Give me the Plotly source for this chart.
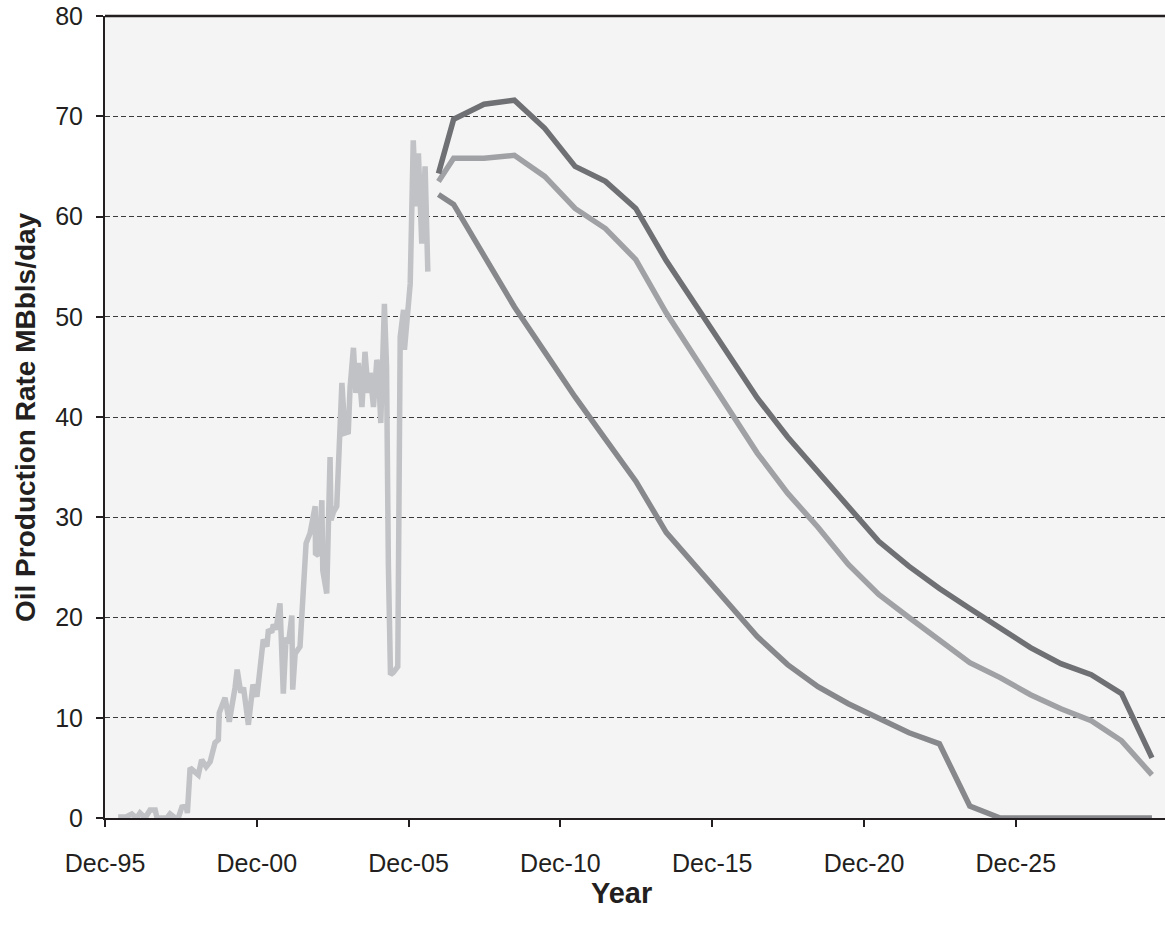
import plotly.graph_objects as go

# ---- data ----
hist_year = [1996.35, 1996.61, 1996.80, 1996.96, 1997.07, 1997.24, 1997.40, 1997.57, 1997.63, 1997.96,
             1998.06, 1998.23, 1998.33, 1998.45, 1998.59, 1998.63, 1998.72, 1998.99, 1999.10, 1999.25,
             1999.38, 1999.54, 1999.65, 1999.68, 1999.87, 2000.01, 2000.20, 2000.27, 2000.39, 2000.48,
             2000.64, 2000.79, 2000.92, 2001.13, 2001.25, 2001.30, 2001.41, 2001.46, 2001.55, 2001.68,
             2001.79, 2001.88, 2001.96, 2002.07, 2002.10, 2002.18, 2002.34, 2002.45, 2002.54, 2002.67,
             2002.84, 2002.85, 2002.95, 2003.06, 2003.09, 2003.22, 2003.33, 2003.36, 2003.44, 2003.55,
             2003.72, 2003.82, 2003.93, 2003.99, 2004.10, 2004.18, 2004.26, 2004.38, 2004.48, 2004.59,
             2004.65, 2004.76, 2004.87, 2004.92, 2005.00, 2005.12, 2005.19, 2005.25, 2005.32, 2005.41,
             2005.56, 2005.64, 2005.75, 2005.78, 2005.91, 2005.97, 2006.07, 2006.16, 2006.24, 2006.29,
             2006.35, 2006.46, 2006.55]
hist_rate = [0.1, 0.1, 0.4, 0.0, 0.5, 0.0, 0.8, 0.8, 0.0, 0.0,
             0.4, 0.0, 0.0, 1.1, 1.2, 0.5, 5.0, 4.3, 5.8, 5.1,
             5.6, 7.5, 7.8, 10.5, 12.0, 9.6, 13.0, 14.8, 12.5, 13.0,
             9.3, 13.3, 12.1, 17.8, 17.1, 18.8, 18.5, 19.3, 18.8, 21.4,
             12.4, 18.0, 17.4, 20.2, 12.8, 16.4, 17.1, 23.7, 27.4, 28.4,
             31.1, 26.4, 26.2, 31.7, 24.7, 22.4, 36.0, 29.7, 30.5, 31.1,
             43.4, 38.4, 38.5, 43.0, 46.9, 42.4, 45.4, 41.0, 46.5, 42.4,
             44.4, 41.0, 45.7, 45.0, 39.4, 51.3, 45.0, 25.3, 14.3, 14.5,
             15.1, 48.0, 50.7, 46.7, 51.0, 53.3, 67.6, 61.0, 66.3, 60.0,
             57.3, 65.0, 54.5]

fc_year = [2006.90, 2007.40, 2008.40, 2009.40, 2010.40, 2011.40, 2012.40, 2013.40, 2014.40,
           2015.40, 2016.40, 2017.40, 2018.40, 2019.40, 2020.40, 2021.40, 2022.40, 2023.40,
           2024.40, 2025.40, 2026.40, 2027.40, 2028.40, 2029.40, 2030.40]
fc_high = [64.3, 69.7, 71.2, 71.6, 68.8, 65.0, 63.5, 60.8, 55.6, 51.0, 46.5, 41.9, 38.0,
           34.6, 31.0, 27.6, 25.1, 22.9, 20.9, 18.9, 17.0, 15.4, 14.3, 12.4, 6.0]
fc_mid = [63.5, 65.8, 65.8, 66.1, 64.0, 60.8, 58.8, 55.7, 50.4, 45.8, 41.2, 36.4, 32.4,
          29.0, 25.3, 22.3, 20.0, 17.7, 15.5, 14.0, 12.3, 10.9, 9.7, 7.7, 4.3]
fc_low = [62.2, 61.2, 56.1, 51.0, 46.5, 42.0, 37.8, 33.6, 28.5, 25.0, 21.5, 18.1, 15.3,
          13.1, 11.4, 10.0, 8.5, 7.4, 1.2, 0.0, 0.0, 0.0, 0.0, 0.0, 0.0]

tick_vals = [1995.917, 2000.917, 2005.917, 2010.917, 2015.917, 2020.917, 2025.917]
tick_text = ["Dec-95", "Dec-00", "Dec-05", "Dec-10", "Dec-15", "Dec-20", "Dec-25"]
x_range = [1995.917, 2030.83]
y_ticks = [0, 10, 20, 30, 40, 50, 60, 70, 80]

FONT = "Liberation Sans, Arial, sans-serif"
INK = "#231f20"

fig = go.Figure()
fig.add_trace(go.Scatter(x=hist_year, y=hist_rate, mode="lines",
                         line=dict(color="#c1c2c5", width=5.5), hoverinfo="skip"))
fig.add_trace(go.Scatter(x=fc_year, y=fc_low, mode="lines",
                         line=dict(color="#87888b", width=5.5), hoverinfo="skip"))
fig.add_trace(go.Scatter(x=fc_year, y=fc_mid, mode="lines",
                         line=dict(color="#a0a1a4", width=5.5), hoverinfo="skip"))
fig.add_trace(go.Scatter(x=fc_year, y=fc_high, mode="lines",
                         line=dict(color="#6f7073", width=5.5), hoverinfo="skip"))

fig.update_layout(
    width=1165, height=935,
    margin=dict(l=105, r=0, t=16, b=117, autoexpand=False),
    paper_bgcolor="white", plot_bgcolor="#f4f4f4",
    showlegend=False,
    font=dict(family=FONT, color=INK),
    xaxis=dict(range=x_range, tickvals=tick_vals, ticktext=tick_text,
               ticks="outside", ticklen=7, tickwidth=1.5, tickcolor=INK,
               showline=True, linecolor=INK, linewidth=2,
               showgrid=False, zeroline=False, layer="below traces",
               tickfont=dict(size=25, family=FONT, color=INK), ticklabelstandoff=15,
               ticklabeloverflow="allow", automargin=False),
    yaxis=dict(range=[0, 80], tickvals=y_ticks,
               ticks="outside", ticklen=7, tickwidth=1.5, tickcolor=INK,
               showline=True, linecolor=INK, linewidth=2,
               showgrid=True, gridcolor="#3c3c3c", gridwidth=1, griddash="5px,3px",
               zeroline=False, layer="below traces",
               tickfont=dict(size=25, family=FONT, color=INK), ticklabelstandoff=8,
               ticklabeloverflow="allow", automargin=False),
    shapes=[
        dict(type="line", xref="paper", yref="paper", x0=0, x1=1, y0=1, y1=1,
             line=dict(color=INK, width=2.5), layer="above"),
    ],
    annotations=[
        dict(text="<b>Oil Production Rate MBbls/day</b>", xref="paper", yref="paper",
             x=0, y=0.5, xshift=-80, textangle=-90, showarrow=False,
             xanchor="center", yanchor="middle", font=dict(size=28, family=FONT, color=INK)),
        dict(text="<b>Year</b>", xref="paper", yref="paper",
             x=0.4877, y=0, yshift=-75, showarrow=False,
             xanchor="center", yanchor="middle", font=dict(size=29, family=FONT, color=INK)),
    ],
)

# remove the browser's default 8px page margin so the 1165x935 figure fills the window
fig.write_html("out.html",
               config={"displayModeBar": False},
               post_script="document.body.style.margin='0';document.body.style.overflow='hidden';")
